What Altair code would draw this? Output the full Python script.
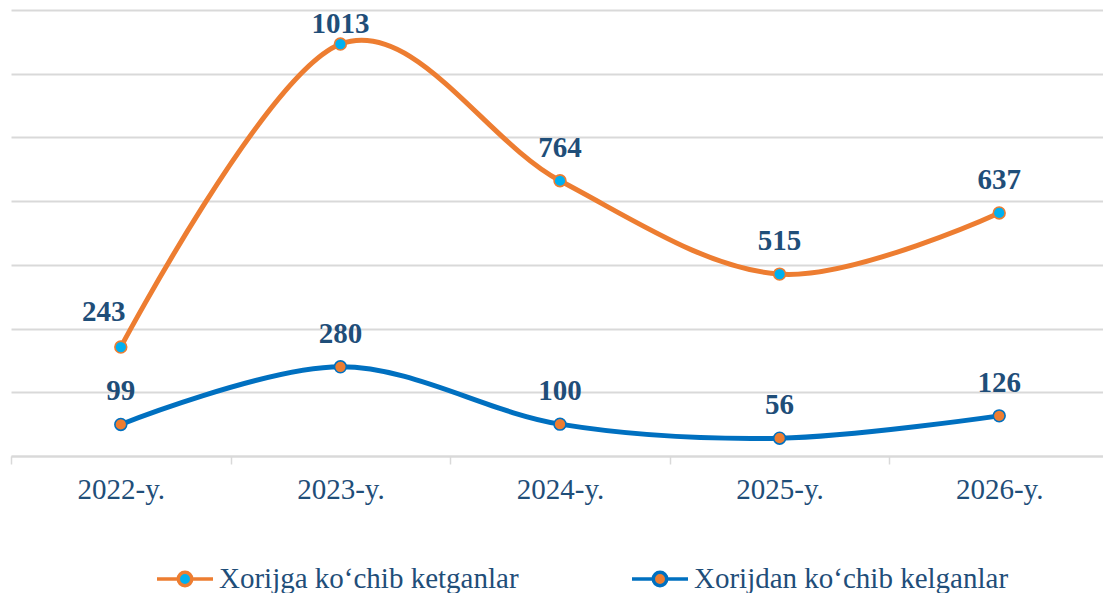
import altair as alt
import pandas as pd

years = ["2022-y.", "2023-y.", "2024-y.", "2025-y.", "2026-y."]
series_names = ["Xorijga ko‘chib ketganlar", "Xorijdan ko‘chib kelganlar"]
ketganlar = [243, 1013, 764, 515, 637]
kelganlar = [99, 280, 100, 56, 126]
stack_order = [2, 1]
line_colors = ["#ED7D31", "#0070C0"]
marker_fills = ["#00B0F0", "#ED7D31"]
grid_values = [0, 200, 400, 600, 800, 1000, 1200, 1400]

rows = []
for name, vals, o in zip(series_names, [ketganlar, kelganlar], stack_order):
    for yr, v in zip(years, vals):
        rows.append({"year": yr, "series": name, "value": v, "order": o})
df = pd.DataFrame(rows)

FONT = "Liberation Serif"
LABEL_COLOR = "#1F4E79"
SYMBOL_PATH = ("M-1,0L-0.24,0M0.24,0L1,0"
               "M0.24,0A0.24,0.24 0 1,1 -0.24,0A0.24,0.24 0 1,1 0.24,0Z")

legend = alt.Legend(
    title=None, orient="none", legendX=145, legendY=539, direction="horizontal",
    symbolType=SYMBOL_PATH, symbolSize=3136, symbolStrokeWidth=3.5,
    labelFont=FONT, labelFontSize=29, labelColor=LABEL_COLOR, labelOffset=4,
    columnPadding=106, padding=0, labelLimit=0,
)

base = alt.Chart(df).transform_stack(
    stack="value", groupby=["year"], as_=["v0", "v1"],
    sort=[alt.SortField(field="order", order="ascending")],
)

x = alt.X(
    "year:N", sort=years,
    scale=alt.Scale(type="band", paddingInner=0, paddingOuter=0, range=[1, 1099]),
    axis=alt.Axis(title=None, tickBand="extent", labelAngle=0, grid=False,
                  domainColor="#D9D9D9", domainWidth=2, tickColor="#D9D9D9",
                  tickWidth=1.5, tickSize=8, labelFont=FONT, labelFontSize=29,
                  labelColor=LABEL_COLOR, labelBaseline="alphabetic",
                  labelPadding=34),
)
y = alt.Y(
    "v1:Q",
    scale=alt.Scale(domain=[0, 1400], nice=False, zero=True),
    axis=alt.Axis(title=None, values=grid_values, labels=False, ticks=False,
                  domain=False, grid=True, gridColor="#D9D9D9", gridWidth=1.8),
)
stroke = alt.Stroke("series:N", scale=alt.Scale(domain=series_names, range=line_colors),
                    legend=legend)
fill = alt.Fill("series:N", scale=alt.Scale(domain=series_names, range=marker_fills),
                legend=legend)

lines = base.mark_line(interpolate="cardinal", strokeWidth=5).encode(
    x=x, y=y, stroke=stroke, detail="series:N"
)
points = base.mark_point(shape="circle", filled=True, size=140, strokeWidth=1.6,
                         opacity=1).encode(x=x, y=y, stroke=stroke, fill=fill)

text_style = dict(font=FONT, fontSize=29, fontWeight="bold", color=LABEL_COLOR,
                  baseline="middle", align="center")
labels = base.transform_filter("datum.value != 243 && datum.value != 1013").mark_text(
    dy=-33, **text_style).encode(x=x, y=y, text="value:Q")
label_243 = base.transform_filter("datum.value == 243").mark_text(
    dy=-35, dx=-17, **text_style).encode(x=x, y=y, text="value:Q")
label_1013 = base.transform_filter("datum.value == 1013").mark_text(
    dy=-20, **text_style).encode(x=x, y=y, text="value:Q")

chart = alt.layer(lines, points, labels, label_243, label_1013).properties(
    width=1093, height=446,
    autosize=alt.AutoSizeParams(type="none"),
    padding={"left": 2, "top": 2, "right": 0, "bottom": 137},
).configure_view(stroke=None)

chart.save("out.html", embed_options={"renderer": "svg", "actions": False})
